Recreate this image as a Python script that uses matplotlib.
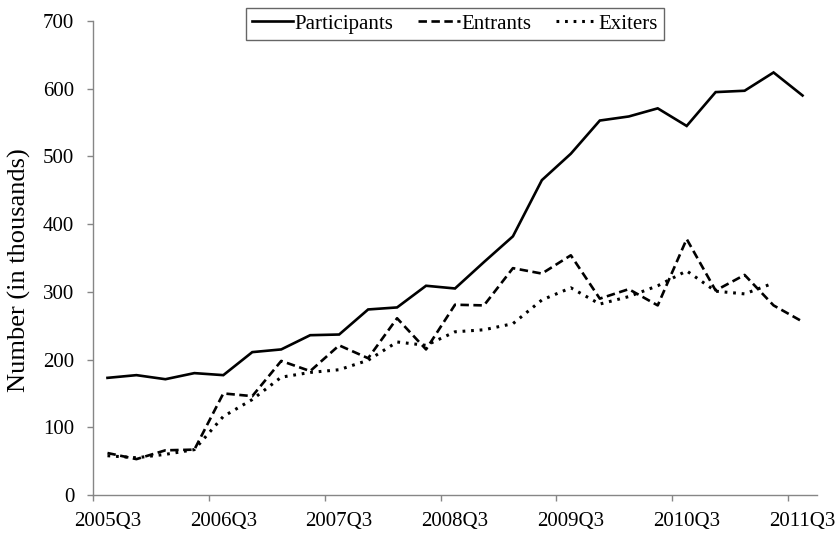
import matplotlib
matplotlib.use("Agg")
import matplotlib.pyplot as plt
import numpy as np

plt.rcParams['font.family'] = ['Liberation Serif', 'DejaVu Serif']

quarters = ['2005Q3', '2005Q4', '2006Q1', '2006Q2', '2006Q3', '2006Q4', '2007Q1', '2007Q2',
            '2007Q3', '2007Q4', '2008Q1', '2008Q2', '2008Q3', '2008Q4', '2009Q1', '2009Q2',
            '2009Q3', '2009Q4', '2010Q1', '2010Q2', '2010Q3', '2010Q4', '2011Q1', '2011Q2',
            '2011Q3']
participants = [173, 177, 171, 180, 177, 211, 215, 236, 237, 274, 277, 309, 305, 344, 382,
                465, 504, 553, 559, 571, 545, 595, 597, 624, 590]
entrants = [62, 53, 66, 67, 150, 146, 198, 183, 221, 202, 261, 215, 281, 280, 335, 327,
            354, 290, 304, 280, 378, 302, 325, 280, 256]
exiters = [58, 55, 60, 67, 116, 141, 174, 181, 185, 199, 226, 221, 241, 244, 253, 288,
           306, 282, 293, 309, 331, 301, 297, 313]
yticks = [0, 100, 200, 300, 400, 500, 600, 700]

fig = plt.figure(figsize=(8.4, 5.34), dpi=100)
ax = fig.add_axes([93/840, 1-495/534, (817-93)/840, (495-21)/534])

x = np.arange(len(quarters))
lw = 1.9
ax.plot(x, participants, color='black', lw=lw, solid_joinstyle='miter', label='Participants')
l2, = ax.plot(x, entrants, color='black', lw=lw, label='Entrants')
l2.set_dashes((3.2, 1.7))
l3, = ax.plot(x[:len(exiters)], exiters, color='black', lw=lw + 0.3, label='Exiters',
              dash_capstyle='butt')
l3.set_dashes((0.9, 1.9))

ax.set_xlim(-0.5, len(quarters) - 0.5)
ax.set_ylim(0, 700)
ax.set_yticks(yticks)
ax.set_yticklabels([str(v) for v in yticks])

# ticks at category boundaries, labels at category centres
ax.set_xticks(np.arange(-0.5, len(quarters) - 1, 4))
ax.set_xticklabels([])
ax.set_xticks(x[::4], minor=True)
ax.set_xticklabels(quarters[::4], minor=True)

spine_c = '#868686'
for s in ['top', 'right']:
    ax.spines[s].set_visible(False)
for s in ['left', 'bottom']:
    ax.spines[s].set_color(spine_c)
    ax.spines[s].set_linewidth(1.0)

ax.tick_params(axis='both', which='major', direction='out', length=4.5, width=1.0,
               color=spine_c, labelsize=15)
ax.tick_params(axis='y', pad=9)
ax.tick_params(axis='x', which='minor', length=0, pad=12, labelsize=15)

ax.set_ylabel('Number (in thousands)', fontsize=19)
ax.yaxis.set_label_coords(-0.086, 0.475)

leg = ax.legend(loc='upper center', bbox_to_anchor=(0.5, 1.028), ncol=3, frameon=True,
                fancybox=False, fontsize=15, handlelength=2.0, handletextpad=0.05,
                columnspacing=1.2, borderpad=0.3, borderaxespad=0)
leg.get_frame().set_edgecolor('#404040')
leg.get_frame().set_linewidth(1.0)

fig.savefig('out.png', dpi=100)
